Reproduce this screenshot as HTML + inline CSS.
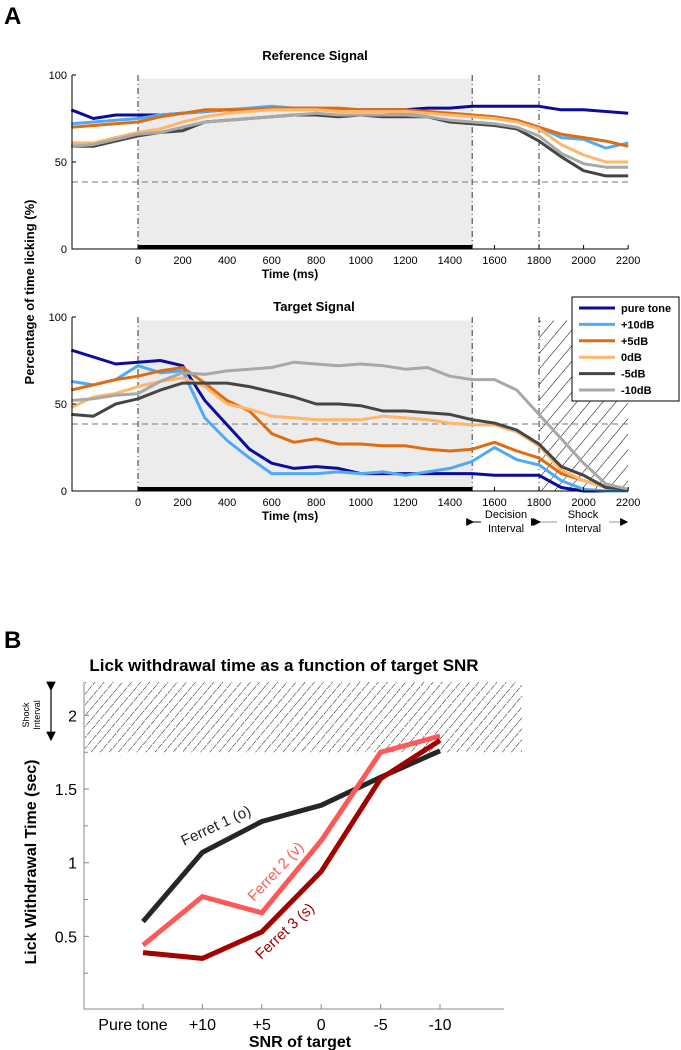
<!DOCTYPE html>
<html><head><meta charset="utf-8"><style>
body{margin:0;background:#fff}
svg{display:block;font-family:"Liberation Sans",Arial,sans-serif}
</style></head><body>
<svg id="fig" width="681" height="1050" viewBox="0 0 681 1050">
<defs>
<pattern id="hatch" patternUnits="userSpaceOnUse" width="7" height="7" patternTransform="rotate(40)">
<line x1="0" y1="0" x2="0" y2="7" stroke="#000" stroke-width="0.9" stroke-dasharray="3,1"/>
</pattern>
<pattern id="hatch2" patternUnits="userSpaceOnUse" width="10" height="10" patternTransform="rotate(40)">
<line x1="0" y1="0" x2="0" y2="10" stroke="#000" stroke-width="1"/>
</pattern>
<marker id="ah" markerWidth="8" markerHeight="8" refX="7" refY="4" orient="auto"><path d="M0,0 L8,4 L0,8 z" fill="#000"/></marker>
</defs>
<text x="4" y="24" font-size="24" font-weight="bold">A</text>
<text x="4" y="648" font-size="24" font-weight="bold">B</text>
<text x="315" y="60" font-size="13" font-weight="bold" text-anchor="middle">Reference Signal</text>
<text x="314" y="311" font-size="13" font-weight="bold" text-anchor="middle">Target Signal</text>
<text transform="translate(34,292) rotate(-90)" font-size="13" font-weight="bold" text-anchor="middle">Percentage of time licking (%)</text>
<g id="top"></g>
<g id="mid"></g>
<g id="bot"></g>
</svg>
<script>
const timesMs=[-300,-200,-100,0,100,200,300,400,500,600,700,800,900,1000,1100,1200,1300,1400,1500,1600,1700,1800,1900,2000,2100,2200];
const seriesNames=["pure tone","+10dB","+5dB","0dB","-5dB","-10dB"];
const seriesColors=["#0c0c9c","#4faaf5","#e06c12","#ffb668","#454545","#a8a8a8"];
const refPure=[80,75,77,77,77,78,79,80,80,81,81,80,80,80,80,80,81,81,82,82,82,82,80,80,79,78];
const refP10=[72,73,74,75,77,78,79,80,81,82,81,81,80,80,79,78,78,78,77,76,74,70,64,63,58,61];
const refP5=[70,71,72,73,76,78,80,80,80,81,81,81,81,80,80,80,79,78,77,76,74,70,66,64,62,59];
const ref0=[61,61,64,67,69,73,76,78,79,80,80,80,79,79,79,79,78,77,76,75,73,69,60,54,50,50];
const refM5=[59,59,62,65,67,68,73,74,75,76,77,77,76,77,76,76,76,73,72,71,69,62,53,45,42,42];
const refM10=[59,60,63,66,67,70,73,74,75,76,77,78,77,77,77,77,76,74,73,72,70,65,55,49,47,47];
const tgtPure=[81,77,73,74,75,72,52,38,24,16,13,14,13,10,10,10,10,10,10,9,9,9,2,0,0,0];
const tgtP10=[63,61,64,72,68,69,42,29,19,10,10,10,11,10,11,9,11,13,17,25,18,15,6,1,0,0];
const tgtP5=[58,61,64,66,69,71,62,52,46,33,28,30,27,27,26,26,24,23,24,28,23,19,10,6,2,1];
const tgt0=[48,54,56,60,63,65,60,50,47,43,42,41,41,41,43,42,41,39,38,38,34,26,12,6,2,1];
const tgtM5=[44,43,50,53,58,62,62,62,60,57,54,50,50,49,46,46,45,44,41,39,35,27,14,9,2,1];
const tgtM10=[52,53,55,56,63,68,67,69,70,71,74,73,72,73,72,70,71,66,64,64,58,44,30,16,4,1];
const xTicks=[0,200,400,600,800,1000,1200,1400,1600,1800,2000,2200];
const yTicksA=[0,50,100];
const snrCats=["Pure tone","+10","+5","0","-5","-10"];
const ferret1=[0.60,1.07,1.28,1.39,1.58,1.76];
const ferret2=[0.44,0.77,0.66,1.15,1.75,1.86];
const ferret3=[0.39,0.35,0.53,0.94,1.57,1.83];
const yTicksB=[0.5,1,1.5,2];
const yMinorB=[0.25,0.75,1.25,1.75];

const NS="http://www.w3.org/2000/svg";
function mk(p,tag,at,txt){const e=document.createElementNS(NS,tag);for(const k in at)e.setAttribute(k,at[k]);if(txt!==undefined)e.textContent=txt;p.appendChild(e);return e;}
const xMs=v=>138+v*0.2228;

function panel(g,y100,y0,data,isTarget){
  const ys=v=>y0+(y100-y0)*v/100;
  let e=mk(g,'rect',{x:xMs(0),y:ys(98),width:xMs(1500)-xMs(0),height:ys(0)-ys(98),fill:'#ececec'});
  
  
  if(isTarget){
    e=mk(g,'rect',{x:xMs(1800),y:ys(98),width:xMs(2200)-xMs(1800),height:ys(0)-ys(98),fill:'url(#hatch2)'});
    
    
  }
  [0,1500,1800].forEach(t=>{
    e=mk(g,'line',{x1:xMs(t),x2:xMs(t),y1:ys(100),y2:ys(0),stroke:'#333','stroke-width':1,'stroke-dasharray':'6,3,1,3'});
    
    
  });
  e=mk(g,'line',{x1:72,x2:628,y1:ys(38.5),y2:ys(38.5),stroke:'#777','stroke-width':1,'stroke-dasharray':'6,4'});
  
  
  data.forEach((arr,i)=>{
    const d=arr.map((v,j)=>(j?'L':'M')+xMs(timesMs[j]).toFixed(1)+','+ys(v).toFixed(1)).join('');
    const p=mk(g,'path',{d:d,fill:'none',stroke:seriesColors[i],'stroke-width':3,'stroke-linejoin':'round'});
    
    
  });
  e=mk(g,'rect',{x:xMs(0),y:ys(0)-4,width:xMs(1500)-xMs(0),height:4,fill:'#000'});
  
  
  mk(g,'path',{d:`M72,${ys(100)}V${ys(0)}H628`,fill:'none',stroke:'#000','stroke-width':1});
  yTicksA.forEach(v=>{
    mk(g,'line',{x1:72,x2:76,y1:ys(v),y2:ys(v),stroke:'#000'});
    e=mk(g,'text',{x:67,y:ys(v)+4,'font-size':11,'text-anchor':'end'},String(v));
    
    
  });
  xTicks.forEach(v=>{
    mk(g,'line',{x1:xMs(v),x2:xMs(v),y1:ys(0),y2:ys(0)-4,stroke:'#000'});
    e=mk(g,'text',{x:xMs(v),y:ys(0)+15,'font-size':11,'text-anchor':'middle'},String(v));
    
    
  });
  e=mk(g,'text',{x:290,y:ys(0)+29,'font-size':12,'font-weight':'bold','text-anchor':'middle'},'Time (ms)');
  
  
}
panel(document.getElementById('top'),75,249,[refPure,refP10,refP5,ref0,refM5,refM10],false);
const mid=document.getElementById('mid');
panel(mid,317,491,[tgtPure,tgtP10,tgtP5,tgt0,tgtM5,tgtM10],true);

let lg=mk(mid,'g',{});


mk(lg,'rect',{x:572,y:297,width:107,height:104,fill:'#fff',stroke:'#000','stroke-width':1});
seriesNames.forEach((n,i)=>{
  const y=308+i*16.4;
  const le=mk(lg,'g',{});
  
  
  mk(le,'line',{x1:579,x2:615,y1:y,y2:y,stroke:seriesColors[i],'stroke-width':3});
  mk(le,'text',{x:621,y:y+4,'font-size':11,'font-weight':'bold'},n);
});
(function(){
  const y=522;
  let e=mk(mid,'line',{x1:xMs(1500)+1,x2:xMs(1800)-1,y1:y,y2:y,stroke:'#000','stroke-width':1,'marker-start':'url(#ah)','marker-end':'url(#ah)'});
  
  
  mk(mid,'rect',{x:481,y:507,width:50,height:30,fill:'#fff'});
  mk(mid,'text',{x:506,y:518,'font-size':11,'text-anchor':'middle'},'Decision');
  mk(mid,'text',{x:506,y:532,'font-size':11,'text-anchor':'middle'},'Interval');
  e=mk(mid,'line',{x1:xMs(1800)+1,x2:xMs(2200)-1,y1:y,y2:y,stroke:'#999','stroke-width':1,'marker-start':'url(#ah)','marker-end':'url(#ah)'});
  
  
  mk(mid,'rect',{x:557,y:507,width:52,height:30,fill:'#fff'});
  mk(mid,'text',{x:583,y:518,'font-size':11,'text-anchor':'middle'},'Shock');
  mk(mid,'text',{x:583,y:532,'font-size':11,'text-anchor':'middle'},'Interval');
})();

const bot=document.getElementById('bot');
const xb=i=>143+i*59.4;
const yb=v=>1010-v*147.3;
let e=mk(bot,'text',{x:284,y:671,'font-size':17,'font-weight':'bold','text-anchor':'middle'},'Lick withdrawal time as a function of target SNR');


e=mk(bot,'rect',{x:85,y:682,width:437,height:yb(1.75)-682,fill:'url(#hatch)'});


mk(bot,'path',{d:'M84,682V1009H504',fill:'none',stroke:'#888','stroke-width':1});
yTicksB.forEach(v=>{
  mk(bot,'line',{x1:84,x2:89,y1:yb(v),y2:yb(v),stroke:'#888'});
  e=mk(bot,'text',{x:77,y:yb(v)+6,'font-size':16,'text-anchor':'end'},String(v));
  
  
});
yMinorB.forEach(v=>mk(bot,'line',{x1:84,x2:88,y1:yb(v),y2:yb(v),stroke:'#888'}));
snrCats.forEach((c,i)=>{
  mk(bot,'line',{x1:xb(i),x2:xb(i),y1:1009,y2:1004,stroke:'#888'});
  e=mk(bot,'text',{x:xb(i)-(i==0?10:0),y:1030,'font-size':16,'text-anchor':'middle'},c);
  
  
});
e=mk(bot,'text',{x:300,y:1047,'font-size':16,'font-weight':'bold','text-anchor':'middle'},'SNR of target');


e=mk(bot,'text',{transform:'translate(36,862) rotate(-90)','font-size':16,'font-weight':'bold','text-anchor':'middle'},'Lick Withdrawal Time (sec)');


mk(bot,'text',{transform:'translate(29,715) rotate(-90)','font-size':9,'text-anchor':'middle'},'Shock');
mk(bot,'text',{transform:'translate(40,715) rotate(-90)','font-size':9,'text-anchor':'middle'},'Interval');
e=mk(bot,'line',{x1:51,x2:51,y1:690,y2:740,stroke:'#000','stroke-width':1.2,'marker-start':'url(#ah)','marker-end':'url(#ah)'});


const fCols=["#262626","#ff5858","#a30000"];
const fNames=["ferret-1","ferret-2","ferret-3"];
[ferret1,ferret2,ferret3].forEach((arr,k)=>{
  const d=arr.map((v,i)=>(i?'L':'M')+xb(i).toFixed(1)+','+yb(v).toFixed(1)).join('');
  const p=mk(bot,'path',{d:d,fill:'none',stroke:fCols[k],'stroke-width':5});
  
  
});
e=mk(bot,'text',{transform:'translate(184,846) rotate(-25)','font-size':15,fill:'#222'},'Ferret 1 (o)');


e=mk(bot,'text',{transform:'translate(254,902) rotate(-47)','font-size':15,fill:'#ff5858'},'Ferret 2 (v)');


e=mk(bot,'text',{transform:'translate(261,960) rotate(-43)','font-size':15,fill:'#a30000'},'Ferret 3 (s)');


</script>
</body></html>
